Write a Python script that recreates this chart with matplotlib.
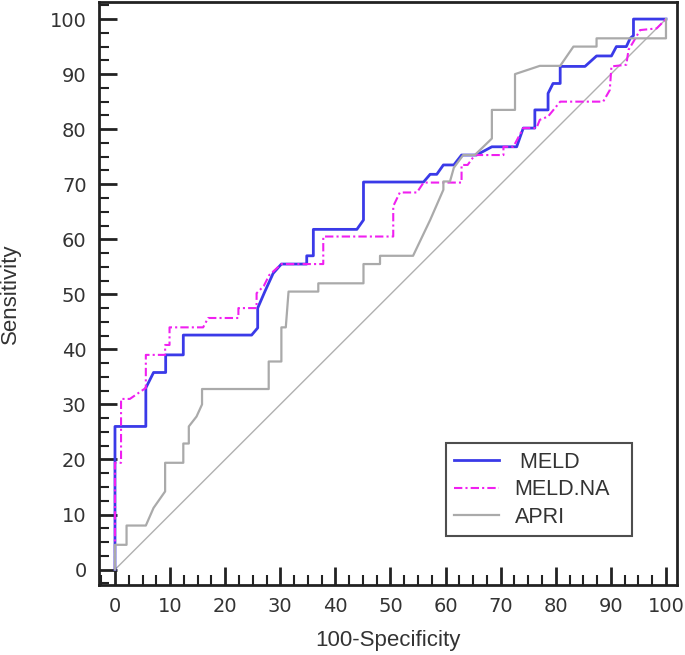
import matplotlib
matplotlib.use("Agg")
import matplotlib.pyplot as plt
from matplotlib.ticker import MultipleLocator

# ROC curves (100-Specificity, Sensitivity)
meld_x = [0, 0, 5.6, 5.6, 7, 9.2, 9.2, 12.4, 12.4, 24.8, 25.9, 25.9, 27.2, 28.7, 30.2,
          34.8, 34.8, 36, 36, 43.9, 45.1, 45.1, 56, 57.2, 58.4, 59.6, 61.5, 62.9, 65.6,
          68.4, 72.9, 74.1, 76.2, 76.2, 78.6, 78.6, 79.5, 80.8, 80.8, 85.3, 87.4, 90.1,
          91, 92.8, 93.5, 94.1, 94.1, 100]
meld_y = [0, 26, 26, 33, 35.8, 35.8, 39, 39, 42.6, 42.6, 43.9, 47.5, 50.5, 53.8, 55.5,
          55.5, 57, 57, 61.8, 61.8, 63.5, 70.4, 70.4, 71.8, 71.8, 73.5, 73.5, 75.3, 75.3,
          76.8, 76.8, 80.2, 80.2, 83.5, 83.5, 86.5, 88.3, 88.3, 91.4, 91.4, 93.3, 93.3,
          95, 95, 96.5, 97, 100, 100]

meldna_x = [0, 0, 1.1, 1.1, 2.7, 5.6, 5.6, 9.1, 9.1, 9.9, 9.9, 16, 16.9, 22.4, 22.4,
            25.7, 25.7, 27, 28, 30.2, 37.8, 37.8, 50.5, 50.5, 51.7, 54.8, 56, 62.9, 62.9,
            64, 65.3, 70.5, 70.5, 72.3, 74.1, 76.5, 77.1, 78.6, 80.8, 88.6, 89.8, 90.1,
            92.8, 93.2, 94.1, 95.3, 98.3, 100]
meldna_y = [0, 19.4, 19.4, 31, 31, 33, 39, 39, 40.8, 40.8, 44, 44, 45.7, 45.7, 47.5,
            47.5, 50.2, 51.5, 53.5, 55.5, 55.5, 60.5, 60.5, 66, 68.5, 68.5, 70.3, 70.3,
            73.5, 73.5, 75.3, 75.3, 76.8, 76.8, 80.2, 80.2, 81.7, 82.3, 85, 85, 87.1,
            91.4, 91.7, 94.4, 95.9, 98, 98.3, 100]

apri_x = [0, 0, 2.1, 2.1, 5.6, 7, 9.1, 9.1, 12.4, 12.4, 13.4, 13.4, 14.8, 15.8, 15.8,
          27.9, 27.9, 30.2, 30.2, 31, 31.5, 36.9, 36.9, 45.1, 45.1, 48.1, 48.1, 54.1,
          57.2, 59.6, 59.6, 60.8, 61.5, 63.2, 65.3, 68.4, 68.4, 72.6, 72.6, 77.1, 80.8,
          83.2, 87.4, 87.4, 100, 100]
apri_y = [0, 4.5, 4.5, 8, 8, 11.2, 14.2, 19.4, 19.4, 22.9, 22.9, 26, 27.8, 30, 32.8,
          32.8, 37.8, 37.8, 44, 44, 50.5, 50.5, 52, 52, 55.5, 55.5, 57, 57, 63.5, 69,
          70.5, 70.5, 73, 75.3, 75.3, 78.3, 83.5, 83.5, 90, 91.5, 91.5, 95, 95, 96.5,
          96.5, 100]

ticks = [0, 10, 20, 30, 40, 50, 60, 70, 80, 90, 100]

fig = plt.figure(figsize=(6.85, 6.55), dpi=100)
ax = fig.add_axes([99 / 685, 70 / 655, 578 / 685, 583 / 655])

ax.plot([0, 100], [0, 100], color="#b0b0b0", lw=1.0)
ax.plot(meld_x, meld_y, color="#3a3ae8", lw=2.0, label=" MELD")
ax.plot(meldna_x, meldna_y, color="#f020f0", lw=1.5, ls=(0, (4, 1.5, 1, 1.5)), label="MELD.NA")
ax.plot(apri_x, apri_y, color="#aaaaaa", lw=1.6, label="APRI")

ax.set_xlim(-2.9, 102)
ax.set_ylim(-2.8, 103.1)
ax.set_xticks(ticks)
ax.set_yticks(ticks)
ax.xaxis.set_minor_locator(MultipleLocator(2.5))
ax.yaxis.set_minor_locator(MultipleLocator(2.5))
ax.tick_params(which="major", direction="in", length=13, width=2, color="#222222",
               labelsize=14, pad=9, labelcolor="#333333", top=False, right=False)
ax.tick_params(which="minor", direction="in", length=7, width=1.5, color="#222222",
               top=False, right=False)
for s in ax.spines.values():
    s.set_linewidth(2)
    s.set_color("#222222")

ax.set_xlabel("100-Specificity", fontsize=16, family="Liberation Sans", color="#333333")
ax.set_ylabel("Sensitivity", fontsize=16, family="Liberation Sans", color="#333333")
ax.xaxis.set_label_coords(0.5, -0.077)
ax.yaxis.set_label_coords(-0.135, 0.5)

leg = ax.legend(loc="lower left", bbox_to_anchor=(0.581, 0.065, 0.36, 0.163), mode="expand",
                fancybox=False, prop={"family": "Liberation Sans", "size": 15.5},
                handlelength=2.1, handletextpad=0.7, labelspacing=0.3, borderpad=0.4)
leg.get_frame().set_edgecolor("#222222")
leg.get_frame().set_linewidth(1.5)
for t in leg.get_texts():
    t.set_color("#333333")

fig.savefig("out.png", dpi=100)
